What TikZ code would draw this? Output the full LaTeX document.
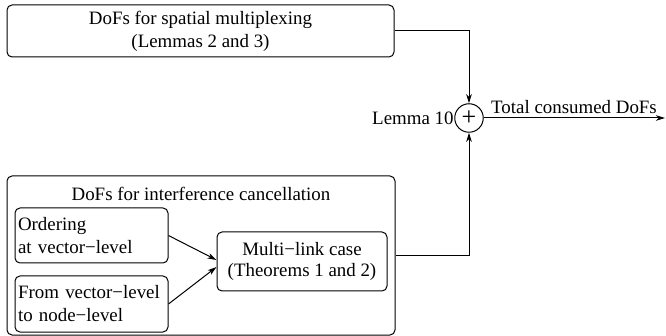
\documentclass[tikz,border=0pt]{standalone}
\usepackage{fontspec}
\setmainfont{Liberation Serif}
\usetikzlibrary{arrows.meta}
\begin{document}
\begin{tikzpicture}[x=1pt,y=-1pt,
  every node/.style={font=\fontsize{18.9}{23}\selectfont, inner sep=0pt},
  box/.style={draw, rounded corners=5pt, line width=1pt},
  arr/.style={line width=1pt, -{Stealth[length=9pt,width=5.5pt,inset=2.5pt]}},
  conn/.style={line width=1pt}]
\useasboundingbox (0,0) rectangle (666,336);
\node[box, minimum width=387, minimum height=52, align=center] (top) at (200.5,31)
  {DoFs for spatial multiplexing\\(Lemmas 2 and 3)};
\node[box, minimum width=388, minimum height=159] (ic) at (201,255.5) {};
\node (ictitle) at (201,194) {DoFs for interference cancellation};
\node[box, minimum height=55, text width=147, inner xsep=3pt, align=left] (ord) at (91.5,235.5)
  {Ordering\\at vector−level};
\node[box, minimum height=56, text width=147, inner xsep=3pt, align=left] (from) at (91.5,304)
  {From vector−level\\to node−level};
\node[box, minimum width=170, minimum height=59, align=center, font=\fontsize{18.9}{21}\selectfont] (ml) at (302,261.5)
  {Multi−link case\\(Theorems 1 and 2)};
\node[circle, draw, line width=1pt, minimum size=28.5pt, font=\fontsize{26}{26}\selectfont] (sum) at (469,118) {+};
\node[anchor=east, inner sep=0.5pt] (lem) at (sum.west) {Lemma 10};
\coordinate (out) at (665,118);
\node[anchor=base west] (tot) at (491,114) {Total consumed DoFs};
\draw[arr] (top.east) -| (sum.north);
\draw[arr] (ic.east) -| (sum.south);
\draw[arr] (sum.east) -- (out);
\draw[arr] (ord.east) -- ([yshift=1.5pt]ml.west);
\draw[arr] (from.east) -- ([yshift=-5.5pt]ml.west);
\end{tikzpicture}
\end{document}
